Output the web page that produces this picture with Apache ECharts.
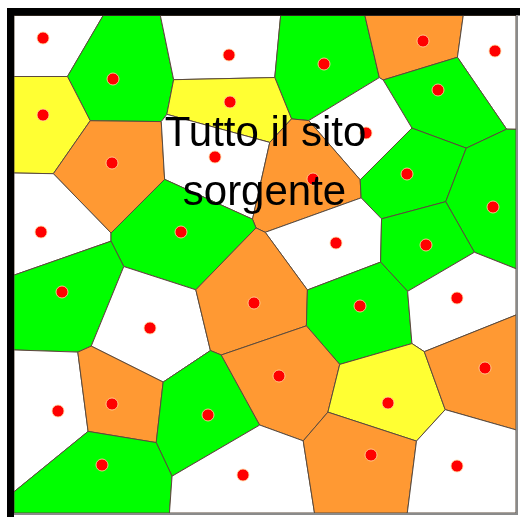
<!DOCTYPE html>
<html>
<head>
<meta charset="utf-8">
<script src="https://cdn.jsdelivr.net/npm/echarts@6/dist/echarts.min.js"></script>
<style>
html,body{margin:0;padding:0;background:#fff;}
#main{width:520px;height:517px;}
</style>
</head>
<body>
<div id="main"></div>
<script>
// Voronoi sites (data units = picture pixels)
const siteX = [43,113,229,324,423,495, 43,230,438,112,215,366,313,407,493, 41,181,336,426, 62,150,254,360,457, 58,112,208,279,388,485,102,243,371,457];
const siteY = [38, 79, 55, 64, 41, 51,115,102, 90,163,157,133,179,174,207,232,232,243,245,292,328,303,306,298,411,404,415,376,403,368,465,475,455,466];
const siteClass = ['W','G','W','G','O','W','Y','Y','G','O','W','W','O','G','G','W','G','W','G','G','W','O','G','W','W','O','G','O','Y','O','G','W','O','W'];
const classColor = {W:'#ffffff', G:'#00ff00', O:'#ff9933', Y:'#ffff33'};
const titleLines = ['Tutto il sito', 'sorgente'];
// area covered by the diagram
const areaMinX = 14, areaMaxX = 516, areaMinY = 15.5, areaMaxY = 513;

// Voronoi cell of each site by half-plane clipping of the area
function clip(poly, ax, ay, bx, by) {
  // keep points closer to a than to b
  const mx = (ax+bx)/2, my = (ay+by)/2, nx = bx-ax, ny = by-ay;
  const f = p => (p[0]-mx)*nx + (p[1]-my)*ny;
  const out = [];
  for (let k = 0; k < poly.length; k++) {
    const p = poly[k], q = poly[(k+1)%poly.length];
    const fp = f(p), fq = f(q);
    if (fp <= 0) out.push(p);
    if ((fp < 0 && fq > 0) || (fp > 0 && fq < 0)) {
      const t = fp/(fp-fq);
      out.push([p[0]+t*(q[0]-p[0]), p[1]+t*(q[1]-p[1])]);
    }
  }
  return out;
}
const cells = siteX.map((x, i) => {
  let poly = [[areaMinX,areaMinY],[areaMaxX,areaMinY],[areaMaxX,areaMaxY],[areaMinX,areaMaxY]];
  siteX.forEach((x2, j) => { if (j !== i) poly = clip(poly, x, siteY[i], x2, siteY[j]); });
  return poly;
});

const chart = echarts.init(document.getElementById('main'), null, {renderer:'canvas'});
chart.setOption({
  animation: false,
  backgroundColor: '#ffffff',
  grid: {left:0, right:0, top:0, bottom:0},
  xAxis: {type:'value', min:0, max:520, show:false},
  yAxis: {type:'value', min:0, max:517, inverse:true, show:false},
  series: [
    {
      type: 'custom',
      data: siteX.map((x, i) => [i, x, siteY[i]]),
      encode: {x: 1, y: 2},
      renderItem: function (params, api) {
        const i = api.value(0);
        const pts = cells[i].map(p => api.coord(p));
        return {
          type: 'polygon',
          shape: {points: pts},
          style: {fill: classColor[siteClass[i]], stroke: '#5b4a3c', lineWidth: 1}
        };
      },
      z: 1
    },
    {
      type: 'scatter',
      data: siteX.map((x, i) => [x, siteY[i]]),
      symbol: 'circle',
      symbolSize: 12,
      itemStyle: {color: '#ff0000', borderColor: 'rgba(255,220,160,0.8)', borderWidth: 1, opacity: 1},
      z: 3
    }
  ],
  graphic: [
    {type:'rect', shape:{x:7, y:8, width:513, height:7.5}, style:{fill:'#000'}, z:10},
    {type:'rect', shape:{x:7, y:8, width:7, height:509}, style:{fill:'#000'}, z:10},
    {type:'rect', shape:{x:516, y:15, width:2, height:500}, style:{fill:'#8a8a8a'}, z:10},
    {type:'rect', shape:{x:14, y:513, width:504, height:2}, style:{fill:'#8a8a8a'}, z:10},
    {type:'text', x:265.5, y:155, style:{text:titleLines[0], font:'42px "Liberation Sans", Arial', fill:'#000', align:'center', verticalAlign:'bottom'}, z:20},
    {type:'text', x:264.5, y:214, style:{text:titleLines[1], font:'42px "Liberation Sans", Arial', fill:'#000', align:'center', verticalAlign:'bottom'}, z:20}
  ]
});
</script>
</body>
</html>
